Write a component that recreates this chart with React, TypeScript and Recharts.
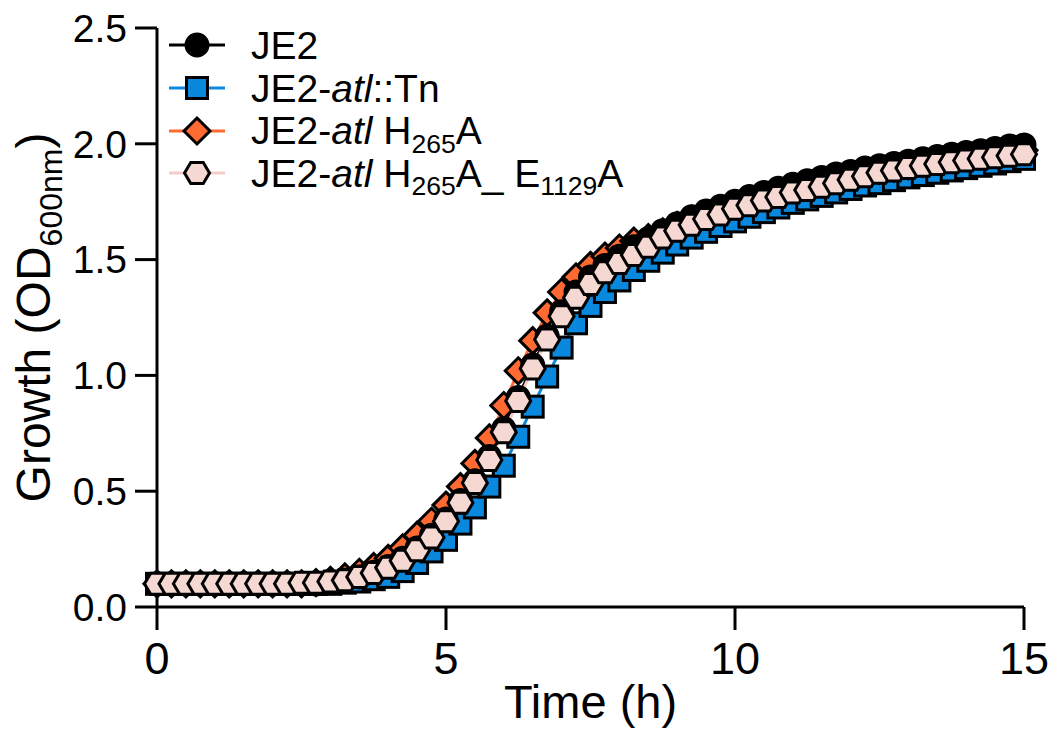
import React from 'react';
import { LineChart, Line, XAxis, YAxis, Legend, Label } from 'recharts';

// time points (h)
const times = [
  0, 0.25, 0.5, 0.75, 1, 1.25, 1.5, 1.75, 2, 2.25, 2.5, 2.75, 3, 3.25, 3.5, 3.75,
  4, 4.25, 4.5, 4.75, 5, 5.25, 5.5, 5.75, 6, 6.25, 6.5, 6.75, 7, 7.25, 7.5, 7.75,
  8, 8.25, 8.5, 8.75, 9, 9.25, 9.5, 9.75, 10, 10.25, 10.5, 10.75, 11, 11.25, 11.5, 11.75,
  12, 12.25, 12.5, 12.75, 13, 13.25, 13.5, 13.75, 14, 14.25, 14.5, 14.75, 15,
];

// OD600 per strain
const je2 = [
  0.1, 0.1, 0.1, 0.1, 0.1, 0.1, 0.1, 0.1, 0.1, 0.1, 0.1, 0.1, 0.11, 0.115, 0.13, 0.15,
  0.175, 0.21, 0.255, 0.31, 0.38, 0.46, 0.545, 0.65, 0.77, 0.905, 1.045, 1.17, 1.275, 1.36, 1.425, 1.475,
  1.515, 1.555, 1.59, 1.625, 1.655, 1.685, 1.71, 1.73, 1.752, 1.772, 1.79, 1.808, 1.825, 1.84, 1.855, 1.87,
  1.88, 1.895, 1.905, 1.915, 1.925, 1.935, 1.945, 1.955, 1.962, 1.97, 1.98, 1.99, 1.995,
];
const atlTn = [
  0.1, 0.1, 0.1, 0.1, 0.1, 0.1, 0.1, 0.1, 0.1, 0.1, 0.1, 0.1, 0.1, 0.105, 0.11, 0.12,
  0.13, 0.155, 0.19, 0.24, 0.29, 0.36, 0.43, 0.52, 0.61, 0.735, 0.865, 0.995, 1.12, 1.225, 1.3, 1.36,
  1.41, 1.455, 1.495, 1.53, 1.565, 1.595, 1.62, 1.645, 1.665, 1.685, 1.705, 1.725, 1.745, 1.76, 1.775, 1.79,
  1.805, 1.82, 1.83, 1.843, 1.855, 1.865, 1.875, 1.885, 1.895, 1.905, 1.915, 1.925, 1.935,
];
const h265a = [
  0.1, 0.1, 0.1, 0.1, 0.1, 0.1, 0.1, 0.1, 0.1, 0.1, 0.1, 0.105, 0.115, 0.13, 0.15, 0.175,
  0.21, 0.255, 0.31, 0.37, 0.44, 0.52, 0.62, 0.73, 0.87, 1.02, 1.15, 1.27, 1.36, 1.425, 1.475, 1.515,
  1.55, 1.58, 1.595, 1.62, 1.648, 1.675, 1.697, 1.717, 1.74, 1.76, 1.775, 1.79, 1.805, 1.82, 1.835, 1.85,
  1.86, 1.875, 1.885, 1.895, 1.905, 1.915, 1.925, 1.935, 1.942, 1.95, 1.958, 1.965, 1.972,
];
const h265aE1129a = [
  0.1, 0.1, 0.1, 0.1, 0.1, 0.1, 0.1, 0.1, 0.1, 0.1, 0.105, 0.105, 0.11, 0.115, 0.13, 0.147,
  0.17, 0.2, 0.245, 0.3, 0.37, 0.45, 0.535, 0.635, 0.755, 0.89, 1.03, 1.155, 1.255, 1.335, 1.395, 1.445,
  1.485, 1.52, 1.555, 1.595, 1.625, 1.65, 1.675, 1.695, 1.72, 1.735, 1.755, 1.77, 1.79, 1.8, 1.815, 1.83,
  1.845, 1.86, 1.875, 1.885, 1.895, 1.905, 1.913, 1.92, 1.928, 1.935, 1.942, 1.948, 1.955,
];

const xTicks = [0, 5, 10, 15];
const yTicks = [0, 0.5, 1, 1.5, 2, 2.5];

const data = times.map((t, i) => ({
  t,
  je2: je2[i],
  tn: atlTn[i],
  h265: h265a[i],
  dbl: h265aE1129a[i],
}));

const FONT = '"Liberation Sans", Arial, Helvetica, sans-serif';
const BLUE = '#0a88de';
const ORANGE = '#ff6a33';
const PINK = '#f5d8d2';
const PINK_LINE = '#f1cfc8';

const CircleDot = ({ cx, cy }: any) => (
  <circle cx={cx} cy={cy} r={11.5} fill="#000" stroke="#000" strokeWidth={2} />
);
const SquareDot = ({ cx, cy }: any) => (
  <rect x={cx - 10.5} y={cy - 10.5} width={21} height={21} fill={BLUE} stroke="#000" strokeWidth={3} />
);
const DiamondDot = ({ cx, cy }: any) => (
  <polygon
    points={`${cx},${cy - 13} ${cx + 13},${cy} ${cx},${cy + 13} ${cx - 13},${cy}`}
    fill={ORANGE}
    stroke="#000"
    strokeWidth={3}
  />
);
const HexDot = ({ cx, cy }: any) => {
  const w = 12.5;
  const h = 10.5;
  return (
    <polygon
      points={`${cx - w},${cy} ${cx - w / 2},${cy - h} ${cx + w / 2},${cy - h} ${cx + w},${cy} ${cx + w / 2},${cy + h} ${cx - w / 2},${cy + h}`}
      fill={PINK}
      stroke="#000"
      strokeWidth={3}
    />
  );
};

const subStyle: React.CSSProperties = {
  fontSize: '0.68em',
  verticalAlign: 'baseline',
  position: 'relative',
  top: '0.32em',
};

const legendItems = [
  { key: 'je2', color: '#000', Dot: CircleDot, label: <>JE2</> },
  { key: 'tn', color: BLUE, Dot: SquareDot, label: <>JE2-<i>atl</i>::Tn</> },
  {
    key: 'h265',
    color: ORANGE,
    Dot: DiamondDot,
    label: <>JE2-<i>atl</i> H<span style={subStyle}>265</span>A</>,
  },
  {
    key: 'dbl',
    color: PINK_LINE,
    Dot: HexDot,
    label: (
      <>
        JE2-<i>atl</i> H<span style={subStyle}>265</span>A_ E<span style={subStyle}>1129</span>A
      </>
    ),
  },
];

function LegendBox() {
  return (
    <div style={{ fontFamily: FONT, fontSize: 39, color: '#000' }}>
      {legendItems.map(({ key, color, Dot, label }) => (
        <div key={key} style={{ display: 'flex', alignItems: 'center', height: 42.7 }}>
          <svg width={56} height={40} style={{ overflow: 'visible', flexShrink: 0 }}>
            <line x1={0} y1={20} x2={56} y2={20} stroke={color} strokeWidth={3} />
            <Dot cx={28} cy={20} />
          </svg>
          <span style={{ marginLeft: 26, lineHeight: 1, whiteSpace: 'nowrap' }}>{label}</span>
        </div>
      ))}
    </div>
  );
}

const XTitle = ({ viewBox }: any) => (
  <text
    x={viewBox.x + viewBox.width / 2}
    y={viewBox.y + 111}
    textAnchor="middle"
    fontSize={47}
    fontFamily={FONT}
    fill="#000"
  >
    Time (h)
  </text>
);

const YTitle = ({ viewBox }: any) => {
  const cx = viewBox.x + 50;
  const cy = viewBox.y + viewBox.height / 2;
  return (
    <text
      transform={`translate(${cx},${cy}) rotate(-90)`}
      textAnchor="middle"
      fontSize={48}
      fontFamily={FONT}
      fill="#000"
    >
      Growth (OD
      <tspan fontSize={32} dy={12}>600nm</tspan>
      <tspan dy={-12}>)</tspan>
    </text>
  );
};

export default function App() {
  return (
    <div style={{ position: 'absolute', left: 0, top: 0, background: '#fff' }}>
      <LineChart
        width={1052}
        height={729}
        data={data}
        margin={{ top: 28, right: 28, bottom: 22, left: 0 }}
      >
        <XAxis
          dataKey="t"
          type="number"
          domain={[0, 15]}
          ticks={xTicks}
          height={100}
          tickSize={23}
          tickMargin={12}
          axisLine={{ stroke: '#000', strokeWidth: 3 }}
          tickLine={{ stroke: '#000', strokeWidth: 3 }}
          tick={{ fontSize: 45, fill: '#000', fontFamily: FONT }}
        >
          <Label content={XTitle} />
        </XAxis>
        <YAxis
          type="number"
          domain={[0, 2.5]}
          ticks={yTicks}
          width={157}
          tickSize={22}
          tickMargin={8}
          tickFormatter={(v: number) => v.toFixed(1)}
          axisLine={{ stroke: '#000', strokeWidth: 3 }}
          tickLine={{ stroke: '#000', strokeWidth: 3 }}
          tick={{ fontSize: 39, fill: '#000', fontFamily: FONT }}
        >
          <Label content={YTitle} />
        </YAxis>
        <Legend
          layout="vertical"
          align="center"
          verticalAlign="middle"
          content={LegendBox}
          wrapperStyle={{ left: 169, top: 24, width: 680, right: 'auto', bottom: 'auto' }}
        />
        <Line
          dataKey="tn"
          stroke={BLUE}
          strokeWidth={3}
          type="linear"
          isAnimationActive={false}
          activeDot={false}
          dot={(p: any) => <SquareDot key={`tn-${p.index}`} cx={p.cx} cy={p.cy} />}
        />
        <Line
          dataKey="h265"
          stroke={ORANGE}
          strokeWidth={3}
          type="linear"
          isAnimationActive={false}
          activeDot={false}
          dot={(p: any) => <DiamondDot key={`h-${p.index}`} cx={p.cx} cy={p.cy} />}
        />
        <Line
          dataKey="je2"
          stroke="#000"
          strokeWidth={3}
          type="linear"
          isAnimationActive={false}
          activeDot={false}
          dot={(p: any) => <CircleDot key={`j-${p.index}`} cx={p.cx} cy={p.cy} />}
        />
        <Line
          dataKey="dbl"
          stroke={PINK_LINE}
          strokeWidth={3}
          type="linear"
          isAnimationActive={false}
          activeDot={false}
          dot={(p: any) => <HexDot key={`d-${p.index}`} cx={p.cx} cy={p.cy} />}
        />
      </LineChart>
    </div>
  );
}
